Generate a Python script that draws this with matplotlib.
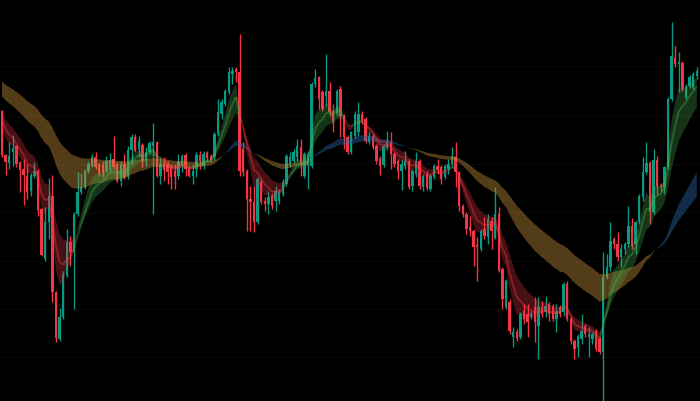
import numpy as np
import pandas as pd
import matplotlib
matplotlib.use('Agg')
import matplotlib.pyplot as plt
from matplotlib.collections import LineCollection

# candles: pixel row from the top (0 = top, 402 = bottom)
open_px = [112, 156, 164, 153, 147, 163, 170, 177, 192, 177, 172, 210, 260, 223, 197, 293,
           340, 318, 277, 243, 253, 215, 193, 188, 172, 167, 158, 165, 166, 172, 168, 160,
           165, 182, 165, 177, 151, 138, 150, 146, 162, 153, 147, 143, 177, 164, 165, 167,
           172, 177, 167, 156, 169, 177, 170, 156, 167, 154, 157, 158, 135, 115, 105, 93,
           75, 70, 73, 150, 172, 200, 203, 223, 183, 202, 205, 197, 202, 202, 195, 185,
           165, 162, 158, 148, 177, 167, 167, 85, 78, 93, 97, 92, 112, 115, 90, 117,
           138, 153, 137, 133, 115, 120, 143, 137, 147, 160, 166, 149, 143, 155, 162, 172,
           167, 162, 187, 175, 162, 188, 175, 190, 178, 167, 168, 178, 170, 165, 158, 173,
           207, 215, 228, 232, 246, 250, 230, 238, 222, 239, 215, 270, 308, 303, 338, 333,
           338, 312, 315, 318, 308, 327, 308, 313, 305, 307, 320, 308, 313, 285, 320, 342,
           348, 340, 327, 338, 340, 332, 340, 353, 278, 268, 240, 245, 258, 250, 245, 227,
           245, 223, 198, 173, 164, 213, 161, 186, 188, 168, 100, 58, 65, 64, 98, 87,
           88, 77]
high_px = [111, 155, 143, 136, 146, 162, 160, 165, 174, 163, 170, 209, 208, 179, 176, 292,
           309, 272, 230, 237, 213, 173, 174, 170, 163, 155, 153, 164, 162, 157, 154, 137,
           163, 162, 155, 147, 135, 135, 137, 144, 148, 142, 124, 142, 158, 158, 162, 165,
           165, 155, 155, 154, 167, 165, 153, 152, 152, 152, 155, 133, 100, 100, 90, 68,
           68, 68, 35, 143, 170, 187, 187, 178, 180, 198, 192, 194, 187, 190, 180, 155,
           153, 150, 140, 140, 153, 152, 83, 70, 77, 91, 55, 83, 105, 90, 87, 115,
           136, 132, 112, 103, 112, 118, 132, 135, 145, 157, 145, 132, 133, 153, 160, 160,
           152, 160, 170, 153, 160, 175, 172, 175, 165, 160, 166, 165, 160, 148, 143, 172,
           205, 213, 217, 230, 238, 230, 218, 215, 218, 188, 208, 268, 280, 300, 328, 330,
           313, 305, 305, 312, 298, 298, 302, 297, 303, 305, 305, 306, 283, 282, 318, 340,
           335, 315, 325, 328, 333, 330, 338, 253, 255, 223, 238, 233, 245, 243, 207, 219,
           222, 195, 158, 143, 162, 150, 157, 184, 167, 98, 23, 47, 53, 62, 85, 76,
           73, 68]
low_px = [158, 176, 170, 167, 168, 193, 206, 200, 197, 179, 217, 257, 262, 240, 303, 343,
          342, 320, 278, 267, 310, 217, 195, 190, 174, 168, 170, 177, 178, 173, 173, 170,
          183, 187, 180, 180, 165, 153, 158, 168, 167, 155, 215, 178, 185, 182, 185, 190,
          190, 180, 173, 177, 178, 185, 178, 170, 170, 162, 163, 161, 137, 120, 107, 95,
          85, 83, 177, 177, 232, 232, 233, 225, 205, 212, 215, 210, 212, 205, 197, 187,
          168, 164, 162, 177, 179, 190, 169, 88, 110, 112, 107, 117, 133, 117, 138, 150,
          155, 155, 139, 137, 125, 144, 145, 150, 165, 176, 168, 151, 170, 168, 180, 191,
          170, 190, 192, 178, 190, 192, 191, 192, 180, 175, 185, 180, 175, 167, 188, 212,
          218, 235, 237, 267, 282, 252, 240, 245, 250, 240, 273, 310, 310, 335, 348, 342,
          340, 325, 338, 320, 343, 360, 318, 318, 322, 322, 333, 318, 317, 322, 345, 360,
          358, 345, 338, 358, 345, 352, 355, 402, 280, 272, 250, 262, 268, 255, 248, 250,
          255, 225, 202, 175, 225, 215, 195, 192, 195, 170, 102, 68, 93, 92, 100, 89,
          90, 80]
close_px = [156, 163, 157, 149, 165, 171, 176, 193, 176, 172, 211, 256, 223, 197, 293, 339,
            318, 275, 243, 253, 215, 193, 188, 172, 165, 158, 168, 175, 174, 162, 161, 168,
            182, 165, 178, 151, 138, 152, 142, 162, 153, 144, 143, 177, 165, 171, 173, 178,
            178, 163, 157, 170, 177, 172, 156, 162, 155, 159, 161, 135, 113, 103, 92, 73,
            72, 73, 172, 173, 200, 203, 223, 180, 203, 205, 198, 207, 192, 193, 183, 157,
            158, 153, 147, 165, 155, 155, 85, 79, 100, 110, 92, 113, 123, 92, 117, 138,
            153, 133, 115, 115, 122, 142, 137, 148, 162, 167, 147, 143, 155, 165, 172, 165,
            162, 188, 172, 162, 187, 177, 189, 177, 167, 171, 180, 167, 165, 158, 173, 207,
            215, 230, 232, 248, 248, 232, 237, 220, 232, 215, 272, 300, 282, 332, 333, 339,
            315, 320, 323, 315, 323, 308, 315, 307, 315, 320, 312, 315, 285, 320, 342, 350,
            337, 332, 335, 335, 335, 350, 353, 278, 268, 242, 245, 258, 250, 245, 227, 247,
            223, 197, 173, 164, 213, 161, 187, 188, 168, 100, 57, 65, 63, 90, 87, 78,
            75, 72]

# where each average sits just before the first candle (pixel rows)
ema_start_px = {5: 113, 8: 110, 13: 106, 34: 94, 55: 80}

# faint horizontal grid rows
grid_px = [67, 117, 165, 213, 262, 310, 358]

SCREEN_H = 402
o = SCREEN_H - np.array(open_px, float)
h = SCREEN_H - np.array(high_px, float)
l = SCREEN_H - np.array(low_px, float)
c = SCREEN_H - np.array(close_px, float)
n = len(c)
x = np.arange(n)


def ema(span):
    s = pd.Series(np.r_[SCREEN_H - ema_start_px[span], c])
    return s.ewm(span=span, adjust=False).mean().to_numpy()[1:]


e5, e8, e13, e34, e55 = (ema(k) for k in (5, 8, 13, 34, 55))

UP = '#089981'
DOWN = '#f23645'

fig = plt.figure(figsize=(7, 4.02), dpi=100, facecolor='black')
ax = fig.add_axes([0, 0, 1, 1])
ax.set_facecolor('black')

# candles
up = c >= o
cols = np.where(up, UP, DOWN)
ax.vlines(x, l, h, colors=cols, lw=1.0, zorder=2)
ax.bar(x, np.maximum(np.abs(c - o), 1.0), bottom=np.minimum(o, c), width=0.68,
       color=cols, linewidth=0, zorder=3)

# slow ribbon
bull_slow = e34 >= e55
ax.fill_between(x, e34, e55, where=bull_slow, interpolate=True,
                color='#2a6bb0', alpha=0.42, lw=0, zorder=4)
ax.fill_between(x, e34, e55, where=~bull_slow, interpolate=True,
                color='#c8923a', alpha=0.42, lw=0, zorder=4)

# fast ribbon
bull_fast = e5 >= e13
ax.fill_between(x, e5, e13, where=bull_fast, interpolate=True,
                color='#4caf50', alpha=0.3, lw=0, zorder=5)
ax.fill_between(x, e5, e13, where=~bull_fast, interpolate=True,
                color='#f23645', alpha=0.3, lw=0, zorder=5)
pts = np.column_stack([x, e8]).reshape(-1, 1, 2)
segs = np.concatenate([pts[:-1], pts[1:]], axis=1)
seg_cols = np.where(bull_fast[1:], '#4caf50', '#f23645')
ax.add_collection(LineCollection(segs, colors=seg_cols, linewidths=1.3,
                                 alpha=0.4, zorder=6))

ax.set_xlim(-2 / 3.6, -2 / 3.6 + 700 / 3.6)
ax.set_ylim(0, SCREEN_H)
ax.set_xticks([])
ax.set_yticks([SCREEN_H - g for g in grid_px])
ax.grid(axis='y', color='#090909', lw=0.8)
ax.set_axisbelow(True)
ax.tick_params(length=0, labelleft=False, labelbottom=False)
for sp in ax.spines.values():
    sp.set_visible(False)

fig.savefig('out.png', dpi=100, facecolor='black')
